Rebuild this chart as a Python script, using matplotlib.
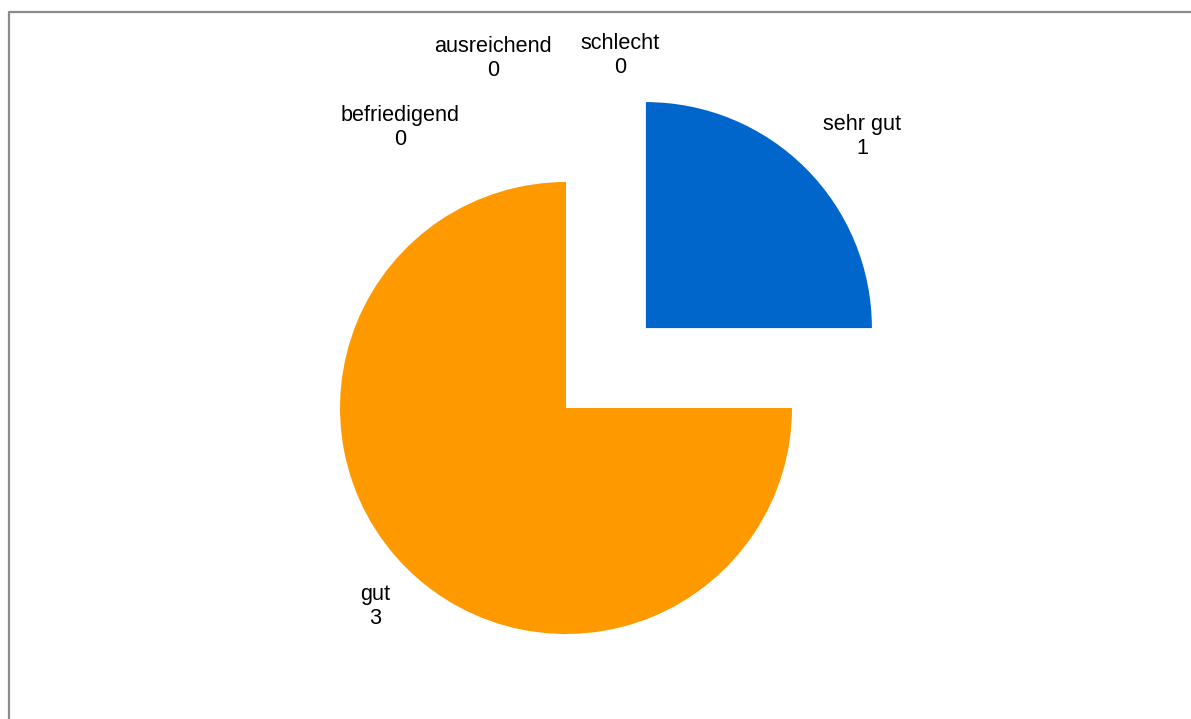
import matplotlib.pyplot as plt
from matplotlib.lines import Line2D

plt.rcParams['font.family'] = ['Liberation Sans', 'DejaVu Sans']

# ratings, in the order they go round the pie (clockwise from 12 o'clock)
categories = ['sehr gut', 'gut', 'befriedigend', 'ausreichend', 'schlecht']
counts = [1, 3, 0, 0, 0]
colors = ['#0066CC', '#FF9900', '#A5A5A5', '#FFC000', '#4472C4']
explode = [0.5, 0, 0, 0, 0]

# label anchors, in units of the pie radius
label_pos = [(1.31, 1.20), (-0.845, -0.88), (-0.735, 1.24),
             (-0.323, 1.545), (0.239, 1.558)]

W, H = 1191, 719
cx, cy, r = 566, 408, 226  # pie centre and radius in pixels

fig = plt.figure(figsize=(W / 100, H / 100), dpi=100)
ax = fig.add_axes([0, 0, 1, 1])
ax.pie(counts, colors=colors, explode=explode, startangle=90,
       counterclock=False, radius=1, center=(0, 0),
       wedgeprops=dict(linewidth=0))
ax.set_xlim(-cx / r, (W - cx) / r)
ax.set_ylim(-(H - cy) / r, cy / r)
ax.set_aspect('auto')
ax.axis('off')

for name, n, (x, y) in zip(categories, counts, label_pos):
    ax.text(x, y, f'{name}\n{n}', ha='center', va='center',
            fontsize=15.6, color='black', linespacing=1.18)

# chart frame (left and top edges)
fig.add_artist(Line2D([8.5 / W, 8.5 / W, 1.0], [0.0, 1 - 12 / H, 1 - 12 / H],
                      transform=fig.transFigure, color='#8c8c8c', lw=1.6))

fig.savefig('out.png', dpi=100)
